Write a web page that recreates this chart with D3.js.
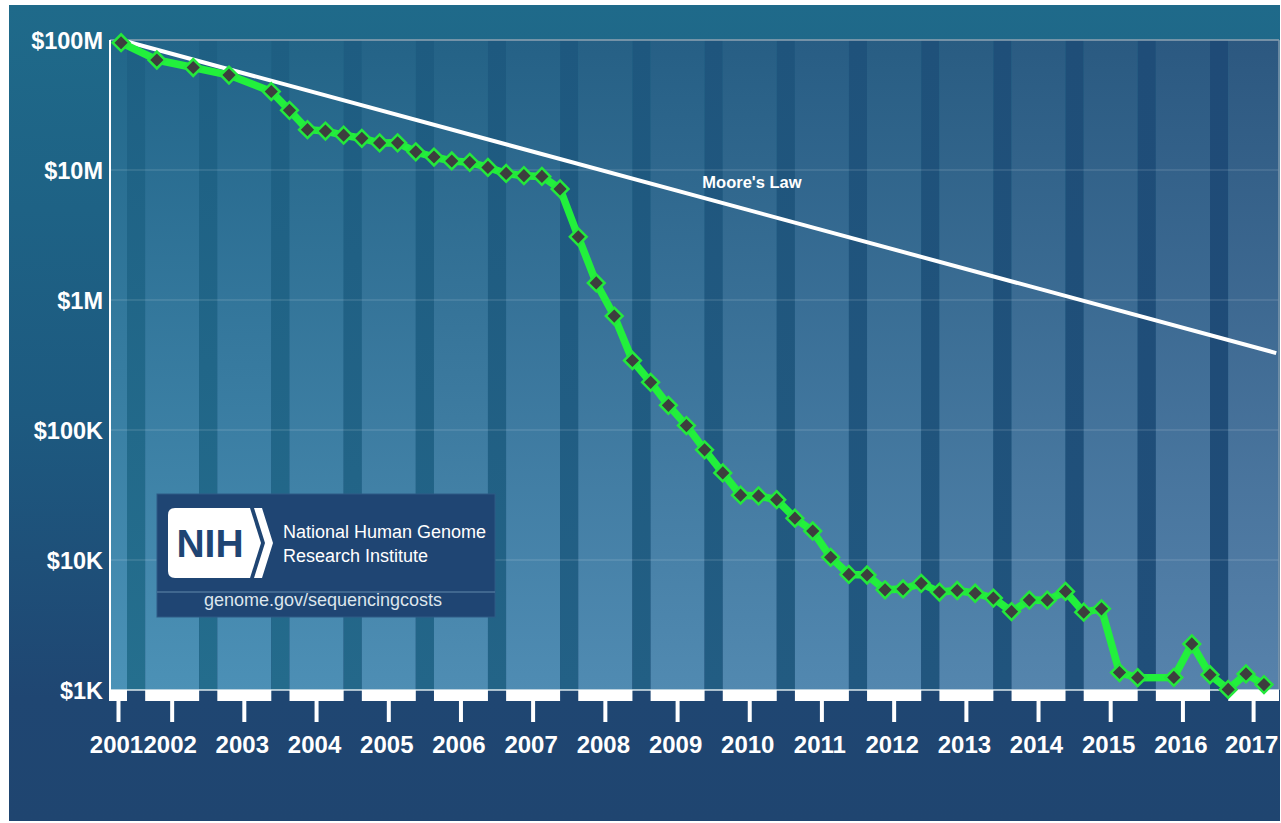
<!DOCTYPE html>
<html><head><meta charset="utf-8">
<script src="https://cdn.jsdelivr.net/npm/d3@7"></script>
<style>html,body{margin:0;padding:0;background:#fff;overflow:hidden}</style>
</head><body><svg id="c" width="1281" height="823"></svg>
<script>
// ---- data ----
const dates = ["2001-09","2002-03","2002-09","2003-03","2003-10","2004-01","2004-04","2004-07","2004-10",
"2005-01","2005-04","2005-07","2005-10","2006-01","2006-04","2006-07","2006-10","2007-01","2007-04","2007-07","2007-10",
"2008-01","2008-04","2008-07","2008-10","2009-01","2009-04","2009-07","2009-10","2010-01","2010-04","2010-07","2010-10",
"2011-01","2011-04","2011-07","2011-10","2012-01","2012-04","2012-07","2012-10","2013-01","2013-04","2013-07","2013-10",
"2014-01","2014-04","2014-07","2014-10","2015-01","2015-04","2015-07","2015-10","2016-04","2016-07","2016-10",
"2017-01","2017-04","2017-07"];
const costs = [95263072,70175437,61448422,53751684,40157554,28780376,20442576,19934346,18519312,
17534970,16159699,16180224,13801124,12585659,11732535,11455315,10474556,9408739,9047003,8927342,7147571,
3063820,1352982,752080,342502,232735,154714,108065,70333,46774,31512,31125,29092,
20963,16712,10497,7743,7666,5901,5985,6618,5671,5826,5550,5096,
4008,4920,4905,5731,3970,4211,1363,1245,1250,2260,1310,
1010,1330,1100];
const mooreDates = ["2001-09","2017-09"];
const mooreCosts = [100000000, 390625];
const yTickValues = [1e3,1e4,1e5,1e6,1e7,1e8];
const yTickLabels = ["$1K","$10K","$100K","$1M","$10M","$100M"];
const years = [2001,2002,2003,2004,2005,2006,2007,2008,2009,2010,2011,2012,2013,2014,2015,2016,2017];
const mooreLabel = "Moore's Law";
const logoTitle = ["National Human Genome","Research Institute"];
const logoUrl = "genome.gov/sequencingcosts";

// ---- layout ----
const svg = d3.select("#c");
const L = 110, R = 1279, T = 40, B = 690;
const parse = d3.timeParse("%Y-%m");
const x = d3.scaleTime().domain([new Date(2001,6,7), new Date(2017,8,15)]).range([L,R]);
const y = d3.scaleLog().domain([1e3,1e8]).range([B,T]);
const FONT = "'Liberation Sans', Arial, Helvetica, sans-serif";
const defs = svg.append("defs");

// outer background
const og = defs.append("linearGradient").attr("id","outerG").attr("x1",0).attr("y1",0).attr("x2",0).attr("y2",1);
og.append("stop").attr("offset",0).attr("stop-color","#1f6a8a");
og.append("stop").attr("offset",0.5).attr("stop-color","#1d5a80");
og.append("stop").attr("offset",0.85).attr("stop-color","#1f4672");
og.append("stop").attr("offset",1).attr("stop-color","#1f4570");
svg.append("rect").attr("x",9).attr("y",5).attr("width",1271).attr("height",816).attr("fill","url(#outerG)");

// bands
const lightC = {tl:"#216689", tr:"#2c5880", bl:"#4b92b7", br:"#5782ab"};
const darkC  = {tl:"#1e6184", tr:"#1f4a76", bl:"#25708f", br:"#1f4b77"};
const bands = [];
years.forEach(Y => {
  bands.push({type:"light", year:Y, x0:x(new Date(Y,0,1)), x1:x(new Date(Y,9,1))});
  bands.push({type:"dark", year:Y, x0:x(new Date(Y,9,1)), x1:x(new Date(Y+1,0,1))});
});
bands.forEach(b => { b.x0 = Math.max(L, b.x0); b.x1 = Math.min(R, b.x1); });
const vis = bands.filter(b => b.x1 > b.x0);
vis.forEach((b,i) => {
  const c = b.type === "light" ? lightC : darkC;
  const f = ((b.x0+b.x1)/2 - L)/(R-L);
  const top = d3.interpolateRgb(c.tl, c.tr)(f), bot = d3.interpolateRgb(c.bl, c.br)(f);
  const g = defs.append("linearGradient").attr("id","bg"+i).attr("x1",0).attr("y1",0).attr("x2",0).attr("y2",1);
  g.append("stop").attr("offset",0).attr("stop-color",top);
  g.append("stop").attr("offset",1).attr("stop-color",bot);
  svg.append("rect").attr("x",b.x0).attr("y",T).attr("width",b.x1-b.x0).attr("height",B-T).attr("fill","url(#bg"+i+")");
});

// grid lines
svg.append("g").selectAll("line").data(yTickValues.filter(v => v>1e3 && v<1e8)).join("line")
  .attr("x1",L).attr("x2",R).attr("y1",d=>y(d)).attr("y2",d=>y(d))
  .attr("stroke","rgba(255,255,255,0.2)").attr("stroke-width",1.2);
svg.append("line").attr("x1",L).attr("x2",R).attr("y1",T).attr("y2",T).attr("stroke","#8fa3b3").attr("stroke-width",1.5);
svg.append("line").attr("x1",R).attr("x2",R).attr("y1",T).attr("y2",B).attr("stroke","#7f98ad").attr("stroke-width",1.5);
svg.append("line").attr("x1",L).attr("x2",R).attr("y1",B).attr("y2",B).attr("stroke","#dde8ee").attr("stroke-width",1.5);

// white bars under light bands
const lights = vis.filter(b => b.type === "light");
svg.append("g").selectAll("rect").data(lights).join("rect")
  .attr("x",d=>d.x0).attr("y",B).attr("width",d=>d.x1-d.x0).attr("height",11).attr("fill","#ffffff");

// left axis line
svg.append("line").attr("x1",L).attr("x2",L).attr("y1",T).attr("y2",701).attr("stroke","#ffffff").attr("stroke-width",2);

// x ticks and labels
const tickG = svg.append("g");
lights.forEach(b => {
  const cx = (b.x0+b.x1)/2;
  tickG.append("line").attr("x1",cx).attr("x2",cx).attr("y1",700).attr("y2",722).attr("stroke","#fff").attr("stroke-width",4);
  tickG.append("text").attr("x",cx-2).attr("y",753).attr("text-anchor","middle")
    .attr("font-family",FONT).attr("font-weight","bold").attr("font-size",24).attr("fill","#fff").text(b.year);
});

// y labels
svg.append("g").selectAll("text").data(yTickValues).join("text")
  .attr("x",103).attr("y",d=>y(d)+8.5).attr("text-anchor","end")
  .attr("font-family",FONT).attr("font-weight","bold").attr("font-size",23.5).attr("fill","#fff")
  .text((d,i)=>yTickLabels[i]);

// NIH box
const box = svg.append("g");
box.append("rect").attr("x",157).attr("y",494).attr("width",338).attr("height",123)
  .attr("fill","#1f4573").attr("stroke","#2f5a85").attr("stroke-width",1);
box.append("line").attr("x1",157).attr("x2",495).attr("y1",592).attr("y2",592).attr("stroke","#4d7399").attr("stroke-width",1.5);
box.append("path").attr("fill","#fff")
  .attr("d","M175,508 L250,508 L261,543 L250,578 L175,578 Q168,578 168,571 L168,515 Q168,508 175,508 Z");
box.append("path").attr("fill","#fff")
  .attr("d","M254,508 L262,508 L273,543 L262,578 L254,578 L265,543 Z");
box.append("text").attr("x",210).attr("y",557).attr("text-anchor","middle")
  .attr("font-family",FONT).attr("font-weight","bold").attr("font-size",39).attr("fill","#1f4573").text("NIH");
box.selectAll("text.t").data(logoTitle).join("text").attr("class","t")
  .attr("x",283).attr("y",(d,i)=>538+i*24).attr("font-family",FONT).attr("font-size",18).attr("fill","#fff").text(d=>d);
box.append("text").attr("x",323).attr("y",606).attr("text-anchor","middle")
  .attr("font-family",FONT).attr("font-size",18).attr("fill","#dde5ec").text(logoUrl);

// clip
defs.append("clipPath").attr("id","plotClip").append("rect").attr("x",L).attr("y",0).attr("width",R-L).attr("height",B+20);

// Moore's law
const moore = mooreDates.map((d,i)=>({date:parse(d), cost:mooreCosts[i]}));
const lineGen = d3.line().x(d=>x(d.date)).y(d=>y(d.cost));
svg.append("path").datum(moore).attr("d",lineGen).attr("clip-path","url(#plotClip)")
  .attr("fill","none").attr("stroke","#fff").attr("stroke-width",4);
svg.append("text").attr("x",752).attr("y",188).attr("text-anchor","middle")
  .attr("font-family",FONT).attr("font-weight","bold").attr("font-size",16.5).attr("fill","#fff").text(mooreLabel);

// genome cost
const data = dates.map((d,i)=>({date:parse(d), cost:costs[i]}));
svg.append("path").datum(data).attr("d",lineGen).attr("fill","none")
  .attr("stroke","#22f03c").attr("stroke-width",7.5).attr("stroke-linejoin","round");
const sym = d3.symbol().type(d3.symbolSquare).size(140);
svg.append("g").selectAll("path").data(data).join("path")
  .attr("d",sym()).attr("transform",d=>`translate(${x(d.date)},${y(d.cost)}) rotate(45)`)
  .attr("fill","#3d3e3e").attr("stroke","#24e83c").attr("stroke-width",2.5);
</script></body></html>
